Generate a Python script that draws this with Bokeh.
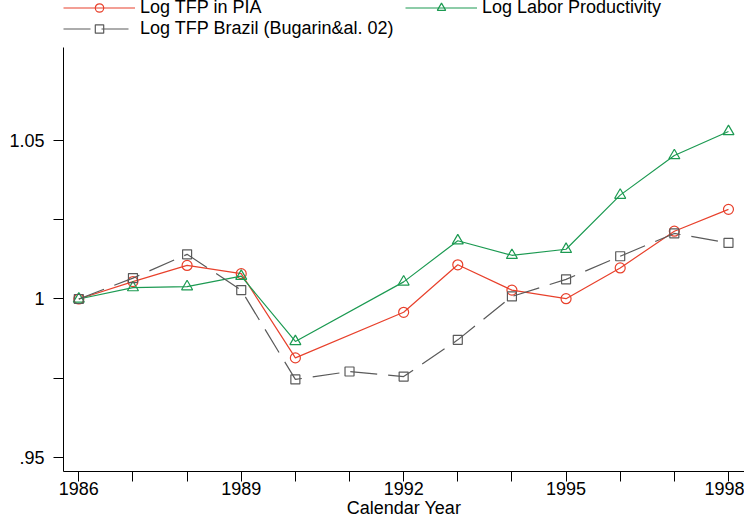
from bokeh.plotting import figure
from bokeh.models import FixedTicker, Legend, LegendItem, Range1d
from bokeh.embed import file_html
from bokeh.resources import INLINE

# ---- data ----
years_pia = [1986, 1987, 1988, 1989, 1990, 1992, 1993, 1994, 1995, 1996, 1997, 1998]
tfp_pia = [1.000, 1.0055, 1.0106, 1.0080, 0.9814, 0.9958, 1.0108, 1.0028, 1.0001, 1.0098, 1.0214, 1.0283]
labor_prod = [1.000, 1.0036, 1.0039, 1.0072, 0.9866, 1.0054, 1.0184, 1.0138, 1.0157, 1.0328, 1.0453, 1.0529]
years_brazil = [1986, 1987, 1988, 1989, 1990, 1991, 1992, 1993, 1994, 1995, 1996, 1997, 1998]
tfp_brazil = [1.000, 1.0066, 1.0141, 1.0028, 0.9746, 0.9771, 0.9755, 0.9871, 1.0008, 1.0062, 1.0135, 1.0207, 1.0177]

x_ticks = list(range(1986, 1999))
x_labels = {1986: "1986", 1989: "1989", 1992: "1992", 1995: "1995", 1998: "1998"}
y_ticks = [0.95, 0.975, 1.0, 1.025, 1.05]
y_labels = {0.95: ".95", 0.975: "", 1.0: "1", 1.025: "", 1.05: "1.05"}
y_axis_bounds = (0.94553, 1.0794)

labels = ["Log TFP in PIA", "Log Labor Productivity", "Log TFP Brazil (Bugarin&al. 02)"]

RED = "#e8412c"
GREEN = "#1c9a52"
GRAY = "#5a5a5a"
FONT = "Liberation Sans"

p = figure(width=744, height=522,
           min_border_left=63, min_border_right=0, min_border_top=0, min_border_bottom=51,
           x_range=Range1d(1985.717, 1998.296), y_range=Range1d(0.94553, 1.09425),
           output_backend="svg", toolbar_location=None)
p.title.visible = False
p.outline_line_color = None
p.xgrid.visible = False
p.ygrid.visible = False
p.background_fill_color = "white"
p.border_fill_color = "white"

r1l = p.line(years_pia, tfp_pia, line_color=RED, line_width=1.2)
r1m = p.scatter(years_pia, tfp_pia, marker="circle", size=10, line_color=RED, fill_color=None, line_width=1.2)
r2l = p.line(years_pia, labor_prod, line_color=GREEN, line_width=1.2)
r2m = p.scatter(years_pia, labor_prod, marker="triangle", size=11, line_color=GREEN, fill_color=None, line_width=1.2)
r3l = p.line(years_brazil, tfp_brazil, line_color=GRAY, line_width=1.2, line_dash="27 11")
r3m = p.scatter(years_brazil, tfp_brazil, marker="square", size=9, line_color=GRAY, fill_color=None, line_width=1.2)

# axes
for ax in (p.xaxis[0], p.yaxis[0]):
    ax.axis_line_color = "black"
    ax.axis_line_width = 1
    ax.major_tick_line_color = "black"
    ax.major_tick_out = 10
    ax.major_tick_in = 0
    ax.minor_tick_out = 0
    ax.minor_tick_in = 0
    ax.major_label_text_font = FONT
    ax.major_label_text_font_size = "18px"
    ax.major_label_text_color = "black"

p.xaxis[0].ticker = FixedTicker(ticks=x_ticks)
p.xaxis[0].major_label_overrides = {k: x_labels.get(k, "") for k in x_ticks}
p.xaxis[0].major_label_standoff = 0
p.xaxis[0].axis_label = "Calendar Year"
p.xaxis[0].axis_label_text_font = FONT
p.xaxis[0].axis_label_text_font_size = "18px"
p.xaxis[0].axis_label_text_font_style = "normal"
p.xaxis[0].axis_label_text_color = "black"
p.xaxis[0].axis_label_standoff = 0

p.yaxis[0].ticker = FixedTicker(ticks=y_ticks)
p.yaxis[0].bounds = y_axis_bounds
p.yaxis[0].major_label_overrides = y_labels
p.yaxis[0].major_label_standoff = 9
p.yaxis[0].major_label_orientation = "horizontal"

# legend at the top of the drawing area, two columns
legend = Legend(items=[LegendItem(label=labels[0], renderers=[r1l, r1m]),
                       LegendItem(label=labels[1], renderers=[r2l, r2m]),
                       LegendItem(label=labels[2], renderers=[r3l, r3m])],
                location=(0, 432), orientation="horizontal", ncols=2,
                glyph_width=72, glyph_height=21, label_height=18, label_width=265,
                label_standoff=5, padding=0, margin=0, spacing=0,
                border_line_color=None, background_fill_alpha=0,
                label_text_font=FONT, label_text_font_size="18px", label_text_color="black")
p.add_layout(legend, "center")

open("out.html", "w").write(file_html(p, INLINE))
